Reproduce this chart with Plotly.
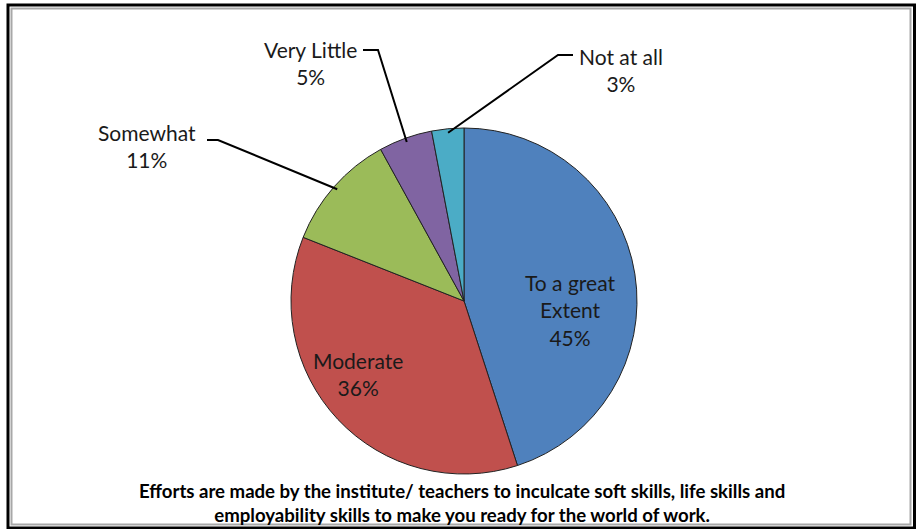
import math
import plotly.graph_objects as go

categories = ["To a great Extent", "Moderate", "Somewhat", "Very Little", "Not at all"]
values = [45, 36, 11, 5, 3]
colors = ["#4F81BD", "#C0504D", "#9BBB59", "#8064A2", "#4BACC6"]
label_text = ["To a great<br>Extent<br>45%", "Moderate<br>36%", "Somewhat<br>11%",
              "Very Little<br>5%", "Not at all<br>3%"]
caption = ("Efforts are made by the institute/ teachers to inculcate soft skills, life skills and<br>"
           "employability skills to make you ready for the world of work.")

W, H = 920, 529
CX, CY, R = 464, 301, 173
FONT = "Lato"
LSIZE = 21

def px(x):
    return x / W

def py(y):
    return 1 - y / H

fig = go.Figure(go.Pie(
    labels=categories, values=values, sort=False, direction="clockwise", rotation=0,
    marker=dict(colors=colors, line=dict(color="#222222", width=1)),
    textinfo="none", hoverinfo="label+percent", showlegend=False,
    domain=dict(x=[px(CX - R), px(CX + R)], y=[py(CY + R), py(CY - R)]),
))

# mid-angles of slices (clockwise from 12 o'clock)
total = sum(values)
mids = []
acc = 0
for v in values:
    mids.append((acc + v / 2) / total * 360)
    acc += v

def edge_point(deg, r):
    a = math.radians(deg)
    return CX + r * math.sin(a), CY - r * math.cos(a)

annotations = []
shapes = []

def add_label(i, x, y):
    annotations.append(dict(x=px(x), y=py(y), xref="paper", yref="paper", text=label_text[i],
                            xanchor="center", yanchor="middle", showarrow=False,
                            font=dict(family=FONT, size=LSIZE, color="#1a1a1a"), align="center"))

# inside labels
add_label(0, 570, 310)
add_label(1, 358, 374)

# outside labels with elbow leader lines: (label center, elbow start, elbow corner)
outside = {
    2: ((147, 146), (207, 140), (218, 140)),
    3: ((310, 63), (363, 50), (378, 50)),
    4: ((621, 70), (573, 55), (558, 55)),
}
for i, (lc, s, c) in outside.items():
    add_label(i, lc[0], lc[1])
    ex, ey = edge_point(mids[i], R - 4)
    path = f"M {px(s[0])} {py(s[1])} L {px(c[0])} {py(c[1])} L {px(ex)} {py(ey)}"
    shapes.append(dict(type="path", xref="paper", yref="paper", path=path,
                       line=dict(color="black", width=2)))

annotations.append(dict(x=px(462), y=py(503), xref="paper", yref="paper", text="<b>" + caption + "</b>",
                        xanchor="center", yanchor="middle", showarrow=False,
                        font=dict(family=FONT, size=18.6, color="black"), align="center"))

# frame
shapes.append(dict(type="rect", xref="paper", yref="paper", x0=px(8), x1=px(914.5), y0=py(528), y1=py(5),
                   line=dict(color="black", width=3)))
shapes.append(dict(type="rect", xref="paper", yref="paper", x0=px(11.5), x1=px(910.5), y0=py(524.5), y1=py(8.5),
                   line=dict(color="#a8a8a8", width=2)))

fig.update_layout(width=W, height=H, margin=dict(l=0, r=0, t=0, b=0),
                  paper_bgcolor="white", plot_bgcolor="white",
                  annotations=annotations, shapes=shapes)

fig.write_html("out.html", config={"displayModeBar": False},
               post_script="document.body.style.margin='0';document.body.style.overflow='hidden';")
